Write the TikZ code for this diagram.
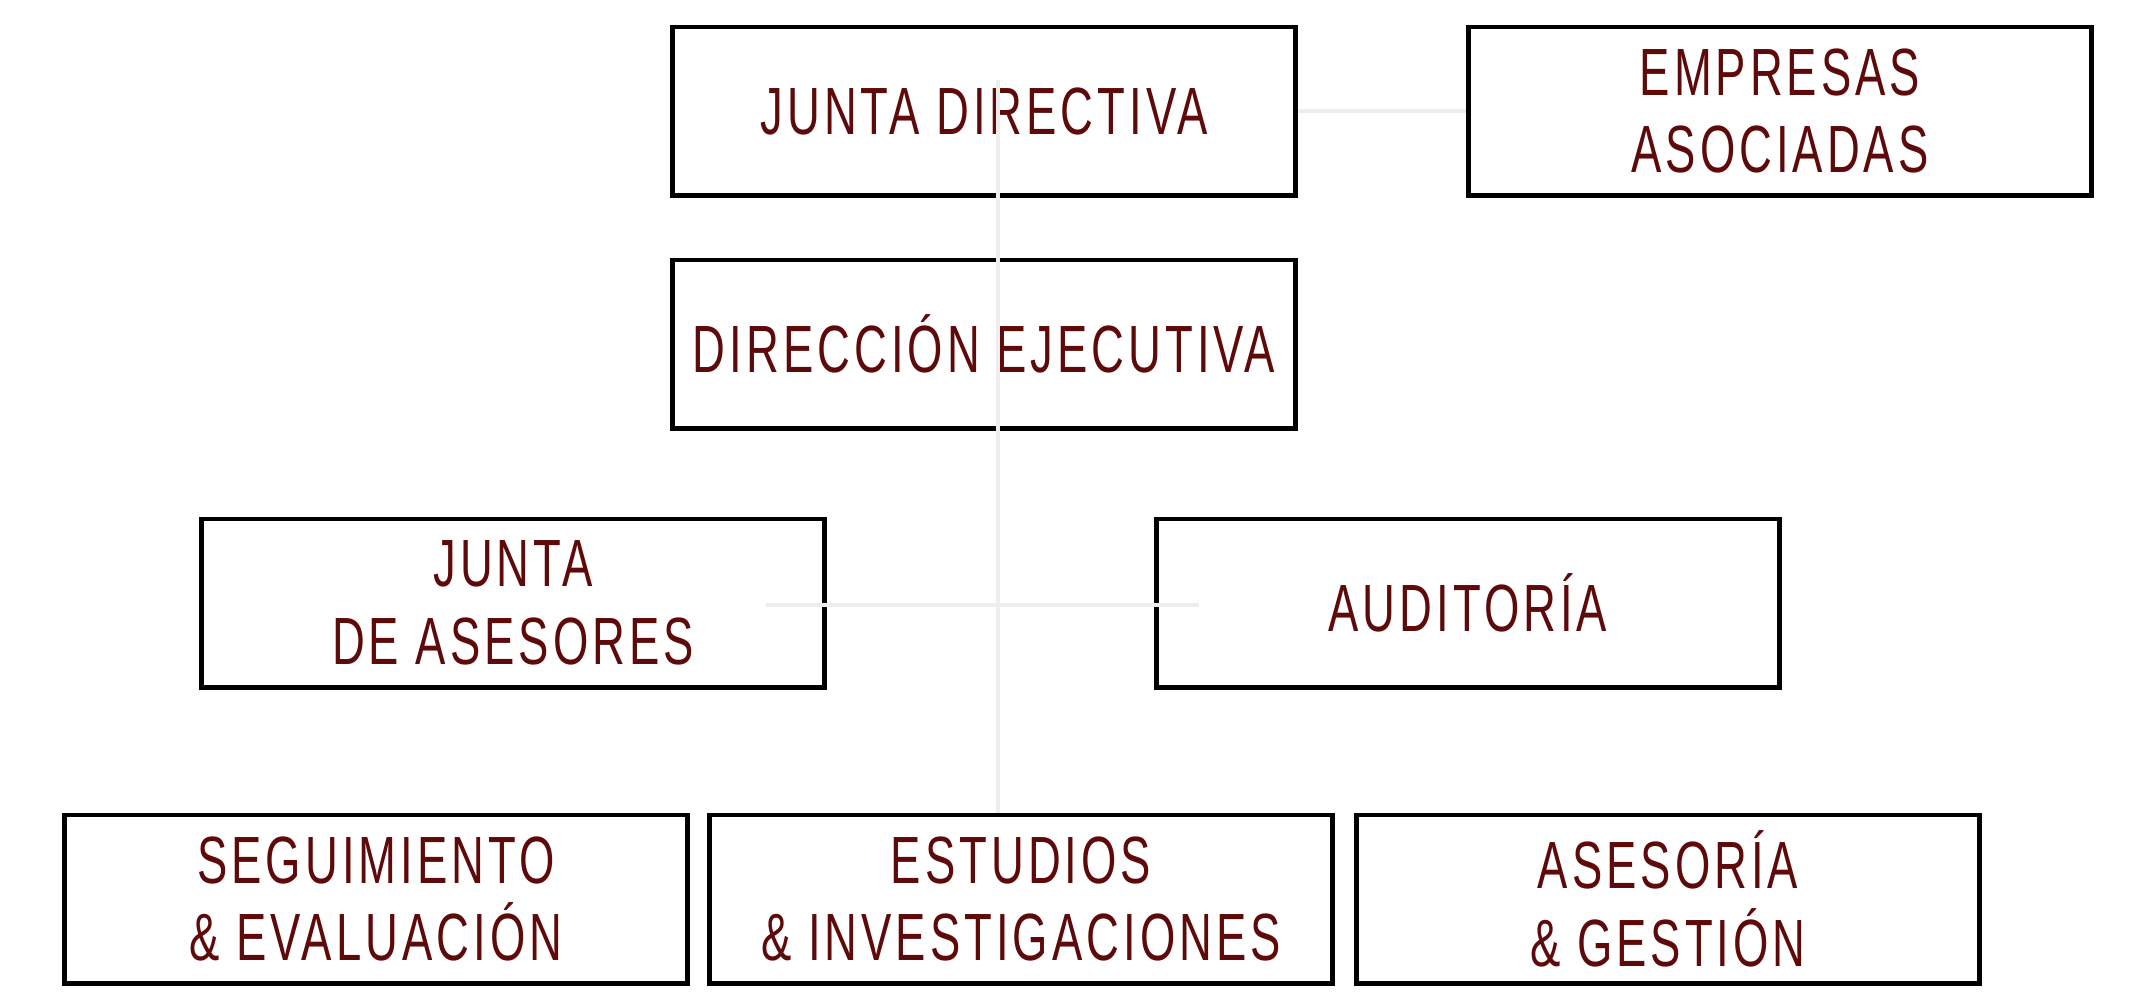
\documentclass[tikz,border=0pt]{standalone}
\usepackage{fontspec}
\setmainfont{Liberation Sans}[FakeStretch=0.68,LetterSpace=6]
\definecolor{granate}{HTML}{5E0A0A}

\tikzstyle{unit} = [rectangle, minimum width=6.22cm, minimum height=1.68cm, text centered, align=center, draw=black, line width=1.4pt, text=granate, font=\fontsize{19}{22}\selectfont]
\tikzstyle{link} = [line width=1.1pt, draw=black!7]

\begin{document}
\begin{tikzpicture}[x=0.01cm, y=-0.01cm]
\useasboundingbox (0,0) rectangle (2153,1005);

% Nodes
\node (junta) [unit] at (984,111) {JUNTA DIRECTIVA};
\node (empresas) [unit] at (1780,111) {EMPRESAS\\ASOCIADAS};
\node (direccion) [unit] at (984,344) {DIRECCIÓN EJECUTIVA};
\node (asesores) [unit] at (513,603) {JUNTA\\DE ASESORES};
\node (auditoria) [unit] at (1468,603) {AUDITORÍA};
\node (seguimiento) [unit] at (376,899) {SEGUIMIENTO\\\& EVALUACIÓN};
\node (estudios) [unit] at (1021,899) {ESTUDIOS\\\& INVESTIGACIONES};
\node (gestion) [unit] at (1668,899) {ASESORÍA\\\& GESTIÓN};

% Connectors
\coordinate (trunk) at (998,80);
\coordinate (leftend) at (766,605);
\coordinate (rightend) at (1199,605);
\draw [link] (trunk) -- (trunk |- estudios.north);
\draw [link] (leftend) -- (rightend);
\draw [link] (junta.east) -- (empresas.west);

\end{tikzpicture}
\end{document}
